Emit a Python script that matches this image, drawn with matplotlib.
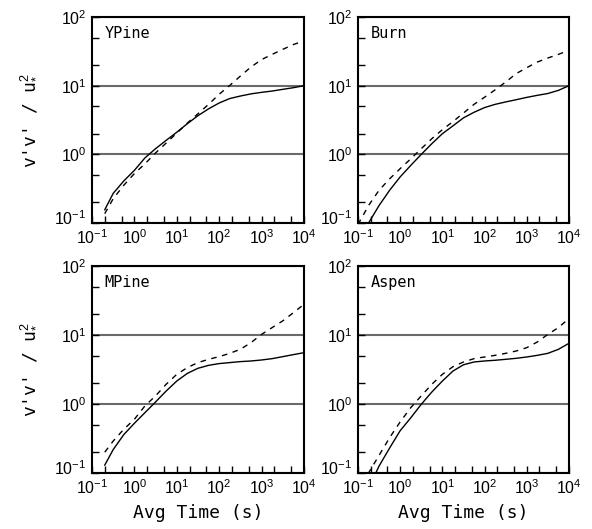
import matplotlib
matplotlib.use("Agg")
import matplotlib.pyplot as plt
import matplotlib.transforms as mtransforms
from matplotlib.ticker import LogLocator, LogFormatterMathtext, NullFormatter

# averaging times (s), quarter-decade steps, at which values were read
pine_time = [0.2, 0.316, 0.562, 1, 1.78, 3.16, 5.62, 10, 17.8, 31.6, 56.2,
             100, 178, 316, 562, 1000, 1780, 3160, 5620, 10000]
open_time = [0.1, 0.178, 0.316, 0.562, 1, 1.78, 3.16, 5.62, 10, 17.8, 31.6, 56.2,
             100, 178, 316, 562, 1000, 1780, 3160, 5620, 10000]

# v'v'/u*^2 for each site: solid and dashed curves
ypine_solid = [0.156, 0.27, 0.41, 0.585, 0.89, 1.21, 1.6, 2.1, 2.8, 3.66, 4.6,
               5.6, 6.5, 7.07, 7.6, 8.0, 8.36, 8.85, 9.35, 10.0]
ypine_dashed = [0.137, 0.226, 0.355, 0.525, 0.73, 1.05, 1.46, 2.04, 2.86, 3.9, 5.35,
                7.5, 10.1, 13.8, 18.7, 24, 28.6, 33.8, 39.7, 45]

burn_solid = [0.06, 0.1, 0.18, 0.30, 0.47, 0.69, 1.0, 1.43, 2.0, 2.6, 3.4, 4.1,
              4.8, 5.35, 5.8, 6.25, 6.76, 7.24, 7.7, 8.55, 10.0]
burn_dashed = [0.095, 0.18, 0.30, 0.44, 0.62, 0.86, 1.21, 1.69, 2.29, 3.0, 4.0, 5.35,
               6.8, 8.7, 11.3, 15, 18.3, 22.1, 25.3, 28.6, 32.7]

mpine_solid = [0.13, 0.218, 0.36, 0.525, 0.75, 1.07, 1.54, 2.15, 2.78, 3.29, 3.63,
               3.85, 3.98, 4.11, 4.2, 4.34, 4.54, 4.85, 5.19, 5.54]
mpine_dashed = [0.20, 0.29, 0.43, 0.6, 0.94, 1.31, 1.93, 2.69, 3.37, 3.98, 4.44,
                4.85, 5.42, 6.2, 7.74, 10.2, 12.8, 16, 21, 27.8]

aspen_solid = [0.03, 0.06, 0.126, 0.23, 0.41, 0.63, 0.99, 1.49, 2.15, 3.0, 3.7, 4.06,
               4.2, 4.3, 4.44, 4.59, 4.8, 5.07, 5.42, 6.2, 7.57]
aspen_dashed = [0.05, 0.10, 0.18, 0.325, 0.55, 0.885, 1.31, 1.93, 2.69, 3.47, 4.06, 4.54,
                4.8, 5.07, 5.42, 5.86, 6.55, 7.92, 10.2, 12.8, 17.3]

sites = ["YPine", "Burn", "MPine", "Aspen"]
times = [pine_time, open_time, pine_time, open_time]
solids = [ypine_solid, burn_solid, mpine_solid, aspen_solid]
dashes = [ypine_dashed, burn_dashed, mpine_dashed, aspen_dashed]

mono = ["DejaVu Sans Mono"]
plt.rcParams['font.family'] = ["Liberation Sans", "DejaVu Sans"]
plt.rcParams['mathtext.fontset'] = 'custom'
plt.rcParams['mathtext.rm'] = 'Liberation Sans'
plt.rcParams['mathtext.it'] = 'Liberation Sans'
plt.rcParams['axes.unicode_minus'] = False

fig = plt.figure(figsize=(5.92, 5.29), dpi=100)
positions = [
    [0.1554, 0.5784, 0.358, 0.3894],
    [0.6047, 0.5784, 0.3564, 0.3894],
    [0.1554, 0.1059, 0.358, 0.3913],
    [0.6047, 0.1059, 0.3564, 0.3913],
]

axes = []
for i, pos in enumerate(positions):
    ax = fig.add_axes(pos)
    axes.append(ax)
    ax.set_xscale('log')
    ax.set_yscale('log')
    ax.set_xlim(0.1, 1e4)
    ax.set_ylim(0.1, 100)

    ax.plot(times[i], solids[i], color='black', lw=1.0)
    ax.plot(times[i], dashes[i], color='black', lw=1.0, ls=(0, (4, 4)))

    ax.yaxis.grid(True, which='major', color='#6a6a6a', lw=1.5)
    ax.set_axisbelow(True)

    ax.xaxis.set_major_locator(LogLocator(base=10, numticks=10))
    ax.yaxis.set_major_locator(LogLocator(base=10, numticks=10))
    ax.xaxis.set_minor_locator(LogLocator(base=10, subs=(2, 5), numticks=10))
    ax.yaxis.set_minor_locator(LogLocator(base=10, subs=(2, 5), numticks=10))
    ax.xaxis.set_major_formatter(LogFormatterMathtext())
    ax.yaxis.set_major_formatter(LogFormatterMathtext())
    ax.xaxis.set_minor_formatter(NullFormatter())
    ax.yaxis.set_minor_formatter(NullFormatter())
    ax.tick_params(which='both', direction='in', top=False, right=False,
                   labelsize=11.5, width=1.0, length=5)
    ax.tick_params(axis='x', pad=4)
    ax.tick_params(axis='y', pad=4)

    for s in ax.spines.values():
        s.set_linewidth(1.5)

    ax.text(0.06, 0.955, sites[i], transform=ax.transAxes, ha='left', va='top',
            fontsize=11, family=mono)

    if i % 2 == 0:
        ax.set_ylabel(r"v'v' / u$_{*}^{2}$", fontsize=13, family=mono, labelpad=12)
    if i >= 2:
        ax.set_xlabel("Avg Time (s)", fontsize=13, family=mono, labelpad=5)

# lift the lowest y tick label a little so it clears the x tick label below it
fig.canvas.draw()
lift = mtransforms.ScaledTranslation(0, 4 / 72, fig.dpi_scale_trans)
for ax in axes:
    for lab in ax.get_yticklabels():
        if abs(lab.get_position()[1] - 0.1) < 1e-6:
            lab.set_transform(lab.get_transform() + lift)

fig.savefig("out.png", dpi=100)
